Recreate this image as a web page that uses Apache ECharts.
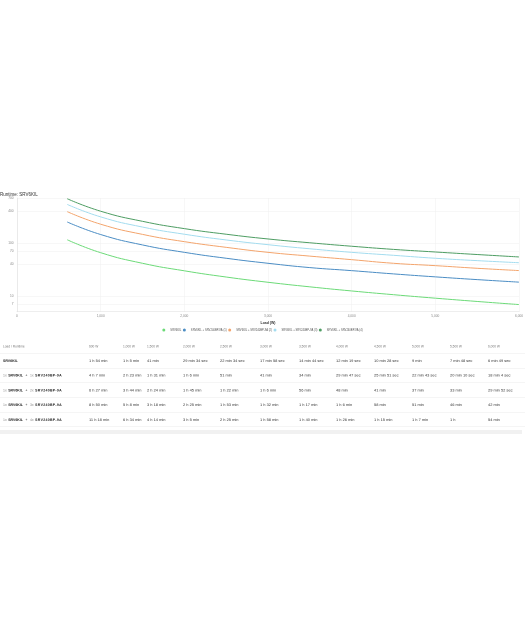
<!DOCTYPE html>
<html>
<head>
<meta charset="utf-8">
<script src="https://cdn.jsdelivr.net/npm/echarts@6/dist/echarts.min.js"></script>
<style>
  html, body { margin:0; padding:0; background:#fff; width:525px; height:625px; overflow:hidden; font-family:"Liberation Sans", Arial, sans-serif; }
  #chart { position:absolute; left:0; top:0; width:525px; height:338px; }
  #tblwrap { position:absolute; left:0; top:339px; width:1050px; transform:scale(0.5); transform-origin:0 0; will-change:transform; }
  #tbl { width:1050px; border-collapse:collapse; table-layout:fixed; }
  #tbl td, #tbl th { height:28.4px; padding:0; border-bottom:1.4px solid #ebebeb; white-space:nowrap; overflow:hidden; text-align:left; vertical-align:middle; font-weight:normal; }
  #tbl th { font-size:6.4px; color:#777; }
  #tbl td { font-size:7.9px; color:#333; }
  #tbl td.lbl { padding-left:6px; font-size:7px; color:#222; }
  #tbl th.lbl { padding-left:6px; }
  .b { font-weight:bold; color:#222; }
  .q { color:#888; font-weight:normal; margin-right:3px; }
  .p { margin:0 5px; }
  .wide { letter-spacing:0.6px; }
  #band { position:absolute; left:0; top:430px; width:522px; height:4px; background:#f1f1f1; }
</style>
</head>
<body>
<div id="chart"></div>
<div id="tblwrap"><table id="tbl"></table></div>
<div id="band"></div>
<script>
// ---- data ----
var loads = [600, 1000, 1500, 2000, 2500, 3000, 3500, 4000, 4500, 5000, 5500, 6000];
var seriesNames = ['SRV6KIL', 'SRV6KIL + SRV240BP-9A (1)', 'SRV6KIL + SRV240BP-9A (2)', 'SRV6KIL + SRV240BP-9A (3)', 'SRV6KIL + SRV240BP-9A (4)'];
var packCounts = [0, 1, 2, 3, 4];
// runtimes in seconds
var runtimeBase = [6840, 3900, 2460, 1774, 1354, 1078, 884, 739, 628, 540, 468, 409];
var runtimePack1 = [14820, 8580, 5460, 3960, 3060, 2460, 2040, 1787, 1551, 1363, 1210, 1084];
var runtimePack2 = [23220, 13440, 8640, 6300, 4920, 3960, 3360, 2880, 2460, 2220, 1980, 1792];
var runtimePack3 = [31800, 18480, 11880, 8700, 6780, 5520, 4620, 3960, 3480, 3060, 2760, 2520];
var runtimePack4 = [40680, 23640, 15240, 11100, 8700, 7080, 6000, 5160, 4500, 4020, 3600, 3240];
var yTickValues = [7, 10, 40, 70, 100, 400, 700];
var colors = ['#6cda78', '#4b8dc4', '#f3a46c', '#a3dcef', '#4e9d63'];

var allRuntimes = [runtimeBase, runtimePack1, runtimePack2, runtimePack3, runtimePack4];

function fmtNum(v) { return v.toLocaleString('en-US'); }
function fmtRuntime(s) {
  var h = Math.floor(s / 3600), m = Math.floor((s % 3600) / 60), sec = s % 60;
  if (h > 0) return m > 0 ? (h + ' h ' + m + ' min') : (h + ' h');
  if (sec > 0) return m + ' min ' + sec + ' sec';
  return m + ' min';
}

// ---- chart ----
var chart = echarts.init(document.getElementById('chart'), null, { renderer: 'canvas' });
var font = '"Liberation Sans", Arial, sans-serif';
chart.setOption({
  animation: false,
  color: colors,
  textStyle: { fontFamily: font },
  title: {
    text: 'Runtime: SRV6KIL', left: 0, top: 192, padding: 0,
    textStyle: { fontSize: 4.5, fontWeight: 'normal', color: '#333', fontFamily: font }
  },
  legend: {
    bottom: 6.5, left: 'center', padding: 0,
    icon: 'circle', itemWidth: 3, itemHeight: 3, itemGap: 1.5,
    textStyle: { fontSize: 2.7, color: '#555', fontFamily: font },
    data: seriesNames
  },
  grid: { left: 17, right: 6, top: 198, bottom: 26.3, containLabel: false, outerBoundsMode: 'none' },
  xAxis: {
    type: 'value', min: 0, max: 6000, interval: 1000,
    name: 'Load (W)', nameLocation: 'middle', nameGap: 9,
    nameTextStyle: { fontSize: 3.5, fontWeight: 'bold', color: '#333', fontFamily: font },
    axisLine: { lineStyle: { color: '#ddd', width: 0.5 } },
    axisTick: { show: false },
    axisLabel: { fontSize: 3.2, color: '#888', margin: 3, formatter: function (v) { return fmtNum(v); } },
    splitLine: { show: true, lineStyle: { color: '#efefef', width: 0.5 } }
  },
  yAxis: {
    type: 'log', logBase: 10, min: 5, max: 700,
    name: 'Runtime (min)', nameLocation: 'middle', nameGap: 8, nameRotate: 90,
    nameTextStyle: { fontSize: 3.2, fontWeight: 'bold', color: '#333', fontFamily: font },
    axisLine: { show: true, lineStyle: { color: '#ddd', width: 0.5 } },
    axisTick: { show: false, customValues: yTickValues },
    axisLabel: { fontSize: 3.2, color: '#888', margin: 3.5, customValues: yTickValues, formatter: function (v) { return fmtNum(Math.round(v)); } },
    splitLine: { show: true, lineStyle: { color: '#efefef', width: 0.5 } }
  },
  series: allRuntimes.map(function (arr, i) {
    return {
      name: seriesNames[i], type: 'line', smooth: true, showSymbol: false,
      lineStyle: { width: 1, color: colors[i] },
      itemStyle: { color: colors[i] },
      data: loads.map(function (x, j) { return [x, arr[j] / 60]; })
    };
  })
});

// ---- table (built at 2x, scaled down) ----
var colWidths = [89, 34, 24, 36, 37, 40, 39, 37, 38, 38, 38, 38, 37];
var tbl = document.getElementById('tbl');
var cg = document.createElement('colgroup');
colWidths.forEach(function (w) { var c = document.createElement('col'); c.style.width = (w * 2) + 'px'; cg.appendChild(c); });
tbl.appendChild(cg);
var hr = document.createElement('tr');
var th0 = document.createElement('th'); th0.className = 'lbl'; th0.textContent = 'Load / Runtime'; hr.appendChild(th0);
loads.forEach(function (l) { var th = document.createElement('th'); th.textContent = fmtNum(l) + ' W'; hr.appendChild(th); });
tbl.appendChild(hr);
allRuntimes.forEach(function (arr, i) {
  var tr = document.createElement('tr');
  var td0 = document.createElement('td'); td0.className = 'lbl';
  if (packCounts[i] === 0) {
    td0.innerHTML = '<span class="b">SRV6KIL</span>';
  } else {
    td0.innerHTML = '<span class="q">1x</span><span class="b">SRV6KIL</span><span class="p">+</span><span class="q">' + packCounts[i] + 'x</span><span class="b wide">SRV240BP-9A</span>';
  }
  tr.appendChild(td0);
  arr.forEach(function (s) { var td = document.createElement('td'); td.textContent = fmtRuntime(s); tr.appendChild(td); });
  tbl.appendChild(tr);
});
</script>
</body>
</html>
